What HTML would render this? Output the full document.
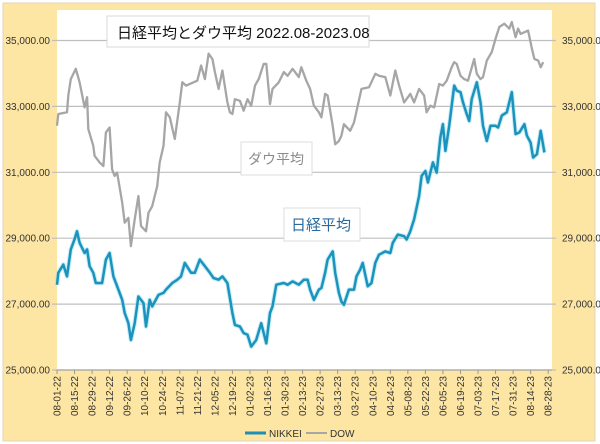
<!DOCTYPE html>
<html><head><meta charset="utf-8"><style>
html,body{margin:0;padding:0;background:#fff;}
svg{display:block;font-family:"Liberation Sans","Noto Sans CJK JP",sans-serif;}
</style></head><body>
<svg id="chart" width="600" height="444" viewBox="0 0 600 444">
<rect x="3" y="3" width="592" height="438" fill="#fde5a3" stroke="#e2d6b8"/>
<rect x="57" y="10" width="495" height="360" fill="#ffffff"/>
<g id="grid"></g>
<g id="yl"></g>
<g id="yr"></g>
<g id="xl"></g>
<g id="series"></g>
<g>
<rect x="107" y="16" width="262" height="31" fill="#fff" stroke="#d8d8d8"/>
<text x="117" y="38" font-size="15" fill="#111">日経平均とダウ平均 2022.08-2023.08</text>
</g>
<g>
<rect x="241" y="142" width="71" height="33" fill="#fff" stroke="#dcdcdc"/>
<text x="248" y="164" font-size="14" fill="#8a8a8a">ダウ平均</text>
</g>
<g>
<rect x="284" y="208" width="76" height="33" fill="#fff" stroke="#dcdcdc"/>
<text x="291" y="230" font-size="15" fill="#2a6a9e">日経平均</text>
</g>
<g>
<line x1="245" y1="433" x2="266" y2="433" stroke="#1f8fb4" stroke-width="3"/>
<text x="269" y="437" font-size="10" fill="#333">NIKKEI</text>
<line x1="306" y1="433" x2="327" y2="433" stroke="#a6a6a6" stroke-width="2"/>
<text x="330" y="437" font-size="10" fill="#333">DOW</text>
</g>
</svg>
<script>
const yTicks=[25000,27000,29000,31000,33000,35000];
const xTickLabels=["08-01-22","08-15-22","08-29-22","09-12-22","09-26-22","10-10-22","10-24-22","11-07-22","11-21-22","12-05-22","12-19-22","01-02-23","01-16-23","01-30-23","02-13-23","02-27-23","03-13-23","03-27-23","04-10-23","04-24-23","05-08-23","05-22-23","06-05-23","06-19-23","07-03-23","07-17-23","07-31-23","08-14-23","08-28-23"];
const dowDays=[0,1,8,9,11,15,18,22,24,25,29,30,34,37,39,42,44,46,48,52,54,57,59,62,65,67,71,73,76,80,82,85,87,90,94,98,100,103,109,112,115,118,121,124,126,129,132,136,138,140,142,146,149,152,155,158,161,165,167,170,172,177,181,184,188,193,195,199,202,205,209,211,214,216,220,222,225,227,229,234,237,240,243,249,254,257,262,266,270,273,277,282,285,289,293,295,298,301,305,308,311,315,317,319,322,325,328,333,335,338,340,343,347,350,353,357,361,363,366,368,370,376,379,381,384,386,388];
const dowValues=[32410,32770,32820,33330,33830,34140,33730,32970,33280,32310,31800,31500,31300,31190,32210,32360,31090,30890,30990,30080,29470,29620,28760,29570,30280,29370,29210,29770,29970,30580,31300,31800,32820,32670,32010,33120,33730,33630,33730,33780,34240,33830,34600,34440,34040,33530,34090,33120,32820,32770,33220,33170,32870,33220,33020,33630,33830,34290,34290,33070,33530,33730,34040,33930,34140,33890,34190,33780,33530,33020,32820,32670,33380,33330,32410,31850,31950,32110,32460,32260,32510,33020,33530,33580,33990,33930,33890,33330,34090,33630,33120,33380,33120,33530,33330,32820,33020,32970,33680,33630,33780,34190,34340,34290,33930,33830,33780,34440,33990,33830,33890,34390,34650,35050,35410,35510,35360,35560,35100,35360,35200,35300,34750,34440,34390,34190,34340];
const nikDays=[0,1,5,8,11,14,16,18,22,24,26,29,31,36,39,42,45,47,52,54,57,59,62,65,69,71,74,76,81,85,87,92,96,99,102,107,110,114,118,122,125,129,132,136,140,142,146,149,152,155,159,163,167,170,172,175,181,184,188,193,197,200,202,205,209,211,214,216,220,222,225,227,229,233,237,239,242,244,248,251,254,257,262,266,268,272,277,279,282,285,289,291,294,296,300,303,306,308,310,313,317,319,322,324,327,329,331,335,338,340,343,346,350,352,355,359,363,366,369,373,375,378,380,383,386,389];
const nikValues=[27590,27950,28200,27840,28660,28960,29210,28860,28550,28660,28150,27950,27640,27640,28350,28550,27840,27640,27130,26730,26420,25910,26420,27230,27030,26320,27130,26930,27280,27340,27440,27640,27740,27840,28250,27950,27950,28350,28150,27950,27790,27740,27840,27640,26730,26370,26320,26120,26070,25710,25910,26420,25810,26730,26930,27590,27640,27590,27690,27590,27740,27740,27440,27130,27440,27490,27950,28350,28600,27950,27340,27080,26980,27440,27440,27840,28050,28250,27540,27640,28250,28500,28600,28550,28860,29110,29060,28960,29210,29570,30280,30890,31040,30690,31300,30990,32060,32460,31650,32410,33630,33480,33430,33120,32770,32560,33220,33730,33120,32410,31950,32410,32410,32360,32720,32820,33430,32160,32210,32460,32110,31900,31450,31550,32260,31600];
const NS="http://www.w3.org/2000/svg";
const X0=57,PX_PER_DAY=1.253,Y0=370,PX_PER_UNIT=65.9/2000;
function xs(d){return X0+d*PX_PER_DAY;}
function ys(v){return Y0-(v-25000)*PX_PER_UNIT;}
function mk(t,a){const e=document.createElementNS(NS,t);for(const k in a)e.setAttribute(k,a[k]);return e;}
const grid=document.getElementById('grid'),yl=document.getElementById('yl'),yr=document.getElementById('yr'),xl=document.getElementById('xl'),ser=document.getElementById('series');
yTicks.forEach(v=>{
 const y=ys(v);
 const g=mk('line',{x1:52,x2:556,y1:y,y2:y,stroke:'#bfbfbf','stroke-width':1.2});
 
 
 grid.appendChild(g);
 const lab=v.toLocaleString('en-US')+'.00';
 const t1=mk('text',{x:50,y:y+3.5,'font-size':10,fill:'#333','text-anchor':'end'});t1.textContent=lab;
 
 
 yl.appendChild(t1);
 const t2=mk('text',{x:562,y:y+3.5,'font-size':10,fill:'#333'});t2.textContent=lab;
 
 
 yr.appendChild(t2);
});
const axis=mk('line',{x1:57,x2:552,y1:370,y2:370,stroke:'#999'});


xl.appendChild(axis);
xTickLabels.forEach((s,i)=>{
 const x=xs(i*14);
 const tk=mk('line',{x1:x,x2:x,y1:370,y2:374,stroke:'#999'});
 
 
 xl.appendChild(tk);
 const t=mk('text',{x:0,y:0,'font-size':10,fill:'#333','text-anchor':'end',transform:`translate(${x+3.5},376) rotate(-90)`});
 t.textContent=s;
 
 
 xl.appendChild(t);
});
function pts(d,v){return d.map((dd,i)=>xs(dd).toFixed(1)+','+ys(v[i]).toFixed(1)).join(' ');}
const dl=mk('polyline',{points:pts(dowDays,dowValues),fill:'none',stroke:'#a6a6a6','stroke-width':2.3,'stroke-linejoin':'round'});


ser.appendChild(dl);
const glow=mk('polyline',{points:pts(nikDays,nikValues),fill:'none',stroke:'#9fe0f0','stroke-width':4.5,'stroke-linejoin':'round',opacity:0.6});


ser.appendChild(glow);
const nl=mk('polyline',{points:pts(nikDays,nikValues),fill:'none',stroke:'#1b93bd','stroke-width':2.5,'stroke-linejoin':'round'});


ser.appendChild(nl);
</script>
</body></html>
